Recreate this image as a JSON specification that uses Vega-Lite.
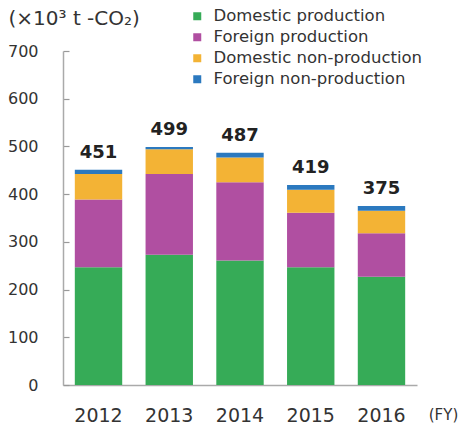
{
  "$schema": "https://vega.github.io/schema/vega-lite/v6.json",
  "width": 354,
  "height": 334,
  "autosize": {"type": "none"},
  "padding": {"left": 63, "top": 51, "right": 47, "bottom": 45},
  "background": "white",
  "config": {"view": {"stroke": null}, "font": "DejaVu Sans"},
  "data": {
    "values": [
      {"year": "2012", "category": "Domestic production", "order": 1, "value": 247},
      {"year": "2012", "category": "Foreign production", "order": 2, "value": 142},
      {"year": "2012", "category": "Domestic non-production", "order": 3, "value": 53},
      {"year": "2012", "category": "Foreign non-production", "order": 4, "value": 9},
      {"year": "2013", "category": "Domestic production", "order": 1, "value": 273},
      {"year": "2013", "category": "Foreign production", "order": 2, "value": 169},
      {"year": "2013", "category": "Domestic non-production", "order": 3, "value": 52},
      {"year": "2013", "category": "Foreign non-production", "order": 4, "value": 5},
      {"year": "2014", "category": "Domestic production", "order": 1, "value": 261},
      {"year": "2014", "category": "Foreign production", "order": 2, "value": 164},
      {"year": "2014", "category": "Domestic non-production", "order": 3, "value": 52},
      {"year": "2014", "category": "Foreign non-production", "order": 4, "value": 10},
      {"year": "2015", "category": "Domestic production", "order": 1, "value": 247},
      {"year": "2015", "category": "Foreign production", "order": 2, "value": 114},
      {"year": "2015", "category": "Domestic non-production", "order": 3, "value": 48},
      {"year": "2015", "category": "Foreign non-production", "order": 4, "value": 10},
      {"year": "2016", "category": "Domestic production", "order": 1, "value": 227},
      {"year": "2016", "category": "Foreign production", "order": 2, "value": 91},
      {"year": "2016", "category": "Domestic non-production", "order": 3, "value": 47},
      {"year": "2016", "category": "Foreign non-production", "order": 4, "value": 10}
    ]
  },
  "encoding": {
    "x": {
      "field": "year",
      "type": "ordinal",
      "scale": {"paddingInner": 0.33, "paddingOuter": 0.167},
      "axis": {
        "title": "(FY)",
        "titleX": 380,
        "titleY": 29,
        "titleAlign": "center",
        "titleBaseline": "middle",
        "titleFontSize": 15,
        "titleFontWeight": "normal",
        "titleColor": "#333333",
        "labelAngle": 0,
        "labelFontSize": 19,
        "labelColor": "#333333",
        "labelBaseline": "middle",
        "labelPadding": 30,
        "ticks": false,
        "domainColor": "#aaaaaa",
        "domainWidth": 1.5
      }
    }
  },
  "layer": [
    {
      "mark": {"type": "bar"},
      "encoding": {
        "y": {
          "field": "value",
          "type": "quantitative",
          "aggregate": "sum",
          "stack": "zero",
          "scale": {"domain": [0, 700], "nice": false},
          "axis": {
            "title": "(×10³ t -CO₂)",
            "titleAngle": 0,
            "titleX": -55,
            "titleY": -33,
            "titleAlign": "left",
            "titleBaseline": "middle",
            "titleFontSize": 20,
            "titleFontWeight": "normal",
            "titleColor": "#333333",
            "values": [0, 100, 200, 300, 400, 500, 600, 700],
            "grid": false,
            "labelFontSize": 16,
            "labelColor": "#333333",
            "labelPadding": 31,
            "tickSize": -6,
            "tickColor": "#999999",
            "tickWidth": 1.2,
            "domainColor": "#aaaaaa",
            "domainWidth": 1.5
          }
        },
        "color": {
          "field": "category",
          "type": "nominal",
          "scale": {
            "domain": ["Domestic production", "Foreign production", "Domestic non-production", "Foreign non-production"],
            "range": ["#36AB57", "#B04FA1", "#F3B335", "#2B79BF"]
          },
          "legend": {
            "title": null,
            "orient": "none",
            "legendX": 126,
            "legendY": -43,
            "symbolType": "square",
            "symbolSize": 64,
            "symbolStrokeWidth": 0,
            "labelFontSize": 16.5,
            "labelLimit": 400,
            "labelColor": "#333333",
            "labelOffset": 8,
            "rowPadding": 4
          }
        },
        "order": {"field": "order", "type": "quantitative", "sort": "ascending"}
      }
    },
    {
      "mark": {"type": "text", "fontSize": 18, "fontWeight": "bold", "color": "#222222", "baseline": "bottom", "dy": -8},
      "encoding": {
        "y": {"field": "value", "type": "quantitative", "aggregate": "sum"},
        "text": {"field": "value", "type": "quantitative", "aggregate": "sum"}
      }
    }
  ]
}
